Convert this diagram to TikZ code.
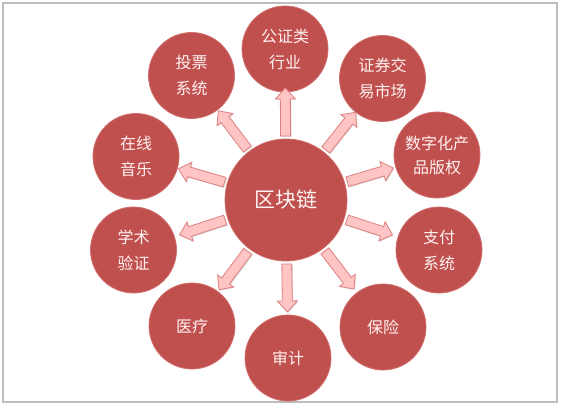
\documentclass[tikz,border=0pt]{standalone}
\usepackage{fontspec}
\newfontfamily\cjk{Noto Sans CJK SC}
\usetikzlibrary{calc,shadows}
\definecolor{circred}{RGB}{192,80,77}
\definecolor{circedge}{RGB}{208,110,108}
\definecolor{arrfill}{RGB}{255,196,196}
\definecolor{arredge}{RGB}{222,128,128}
\definecolor{txtw}{RGB}{255,242,242}
\definecolor{framegray}{RGB}{190,190,190}
\tikzset{
  hub/.style={circle, fill=circred, draw=circedge, line width=0.8pt, minimum size=122pt, inner sep=0pt,
    text=txtw, font=\cjk\fontsize{21}{26}\selectfont},
  leaf/.style={circle, fill=circred, draw=circedge, line width=0.8pt, minimum size=86pt, inner sep=0pt,
    text=txtw, align=center, font=\cjk\fontsize{16}{26}\selectfont},
  blockarrow/.style={fill=arrfill, draw=arredge, line width=0.8pt, line join=miter,
    drop shadow={shadow xshift=1pt, shadow yshift=-1pt, opacity=0.25}}
}
\begin{document}
\begin{tikzpicture}[x=1pt,y=-1pt]
\useasboundingbox (0,0) rectangle (562,406);
\draw[framegray, line width=2pt] (3,3.5) rectangle (556.5,402);
\node[hub] (c) at (286,200) {区块链};
\node[leaf] (n1) at (285,49) {公证类\\行业};
\node[leaf] (n2) at (382.5,78.5) {证券交\\易市场};
\node[leaf, font=\cjk\fontsize{16}{24}\selectfont] (n3) at (437,155) {数字化产\\品版权};
\node[leaf] (n4) at (439,250) {支付\\系统};
\node[leaf] (n5) at (383,327) {保险};
\node[leaf] (n6) at (288,358) {审计};
\node[leaf] (n7) at (192,326) {医疗};
\node[leaf] (n8) at (133.5,250) {学术\\验证};
\node[leaf] (n9) at (136,156.5) {在线\\音乐};
\node[leaf] (n10) at (191.5,75.5) {投票\\系统};
\foreach \o in {n1,n2,n3,n4,n5,n6,n7,n8,n9,n10}{
  \pgfmathanglebetweenpoints{\pgfpointanchor{c}{center}}{\pgfpointanchor{\o}{center}}
  \let\ang\pgfmathresult
  \begin{scope}[shift={(c.center)}, rotate=\ang]
    \draw[blockarrow] (64,-5) -- (101,-5) -- (101,-10) -- (112,0) -- (101,10) -- (101,5) -- (64,5) -- cycle;
  \end{scope}
}
\end{tikzpicture}
\end{document}
